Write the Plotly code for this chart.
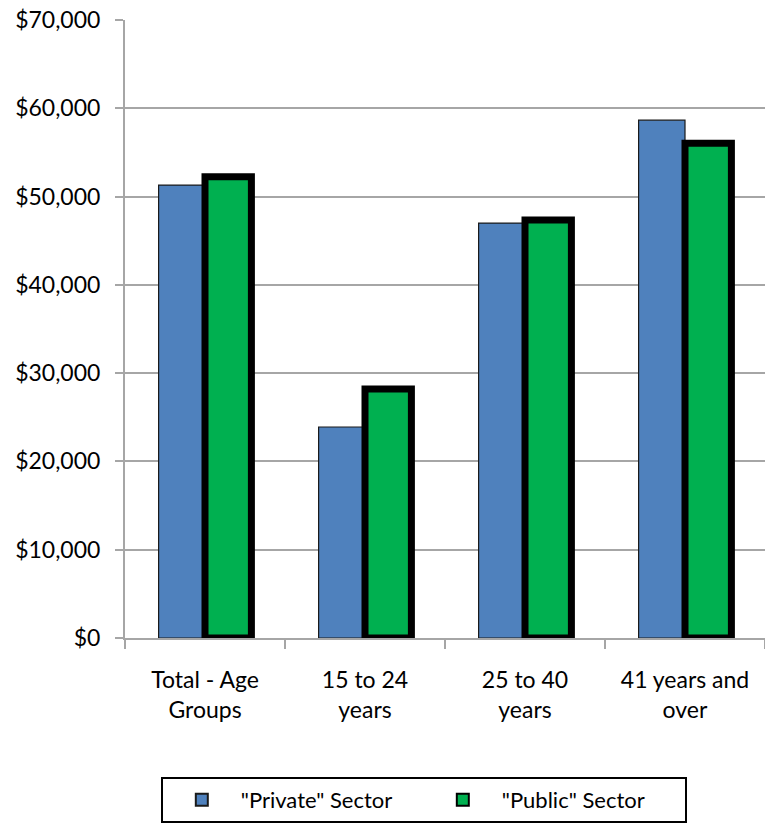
import plotly.graph_objects as go

categories = ["Total - Age<br>Groups", "15 to 24<br>years", "25 to 40<br>years", "41 years and<br>over"]
private_vals = [51300, 23900, 47000, 58650]
public_vals = [52250, 28200, 47350, 56050]
y_ticks = [0, 10000, 20000, 30000, 40000, 50000, 60000, 70000]
y_labels = ["$0", "$10,000", "$20,000", "$30,000", "$40,000", "$50,000", "$60,000", "$70,000"]

FONT = "Lato"
fig = go.Figure()
fig.add_trace(go.Bar(
    name='"Private" Sector', x=categories, y=private_vals,
    marker=dict(color="#4F81BD", line=dict(color="#1a1a1a", width=1.2)),
))
fig.add_trace(go.Bar(
    name='"Public" Sector', x=categories, y=public_vals,
    marker=dict(color="#00B050", line=dict(color="#000000", width=7)),
))

fig.update_layout(
    width=765, height=823,
    margin=dict(l=125, r=0, t=20, b=185),
    paper_bgcolor="white", plot_bgcolor="white",
    barmode="group", bargap=0.42, bargroupgap=0.0,
    font=dict(family=FONT, size=23, color="#000000"),
    showlegend=True,
    legend=dict(
        orientation="h", xref="container", yref="container",
        x=0.554, xanchor="center", y=0.056, yanchor="top",
        bordercolor="#000000", borderwidth=2,
        font=dict(family=FONT, size=22, color="#000000"),
        itemsizing="constant", itemwidth=68,
        entrywidth=178, entrywidthmode="pixels",
    ),
)
fig.update_yaxes(
    range=[0, 70000], tickvals=y_ticks, ticktext=y_labels,
    showgrid=True, gridcolor="#A6A6A6", gridwidth=2,
    showline=True, linecolor="#A6A6A6", linewidth=2,
    ticks="outside", ticklen=8, tickcolor="#A6A6A6", tickwidth=2,
    ticklabelstandoff=10, zeroline=False,
)
fig.update_xaxes(
    showline=True, linecolor="#A6A6A6", linewidth=2,
    ticks="outside", ticklen=9, tickcolor="#A6A6A6", tickwidth=2,
    tickson="boundaries", ticklabelstandoff=20,
)
fig.write_html("out.html")
